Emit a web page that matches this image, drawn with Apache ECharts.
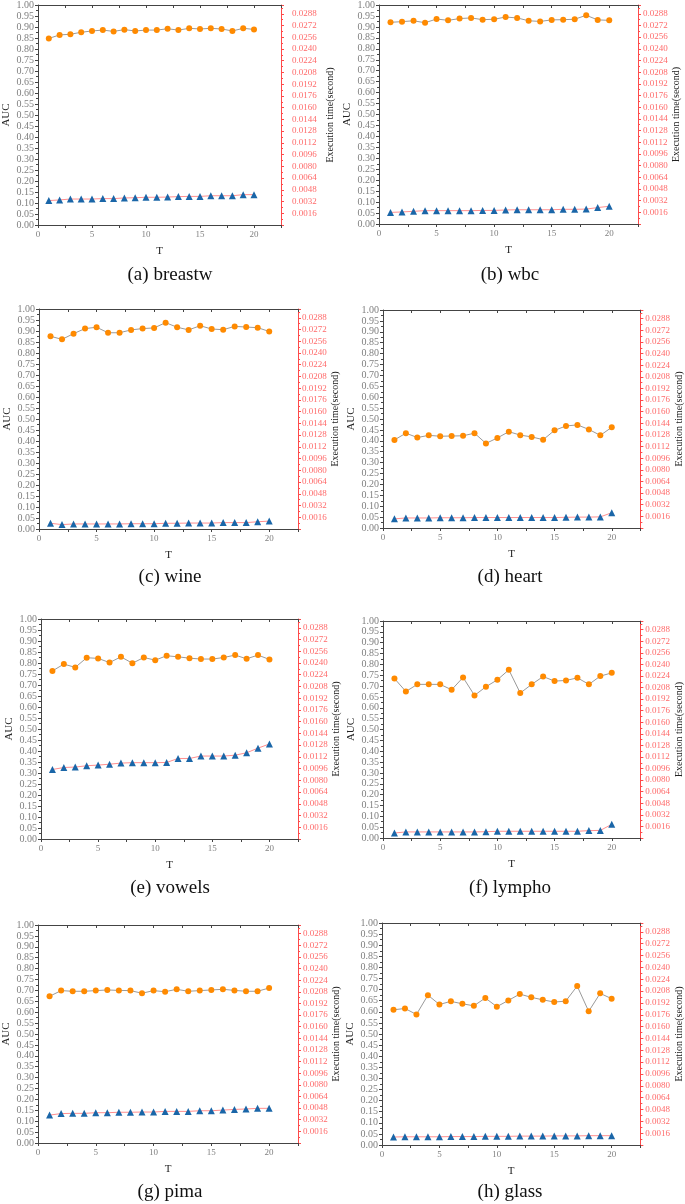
<!DOCTYPE html>
<html>
<head>
<meta charset="utf-8">
<script src="https://cdn.jsdelivr.net/npm/echarts@6/dist/echarts.min.js"></script>
<style>
html,body{margin:0;padding:0;background:#fff;}
#main{width:685px;height:1204px;}
</style>
</head>
<body>
<div id="main"></div>
<script>
// ---- data ----
const T = [1,2,3,4,5,6,7,8,9,10,11,12,13,14,15,16,17,18,19,20];
const captions = ['(a) breastw','(b) wbc','(c) wine','(d) heart','(e) vowels','(f) lympho','(g) pima','(h) glass'];
const xTickLabels = ['0','5','10','15','20'];

const aucBreastw = [0.848,0.864,0.867,0.876,0.882,0.886,0.880,0.888,0.882,0.886,0.886,0.892,0.886,0.894,0.891,0.894,0.891,0.882,0.894,0.889];
const timeBreastw = [0.00333,0.00342,0.00354,0.00354,0.00354,0.00360,0.00360,0.00369,0.00372,0.00378,0.00378,0.00381,0.00387,0.00390,0.00390,0.00399,0.00399,0.00399,0.00414,0.00414];

const aucWbc = [0.921,0.924,0.928,0.919,0.936,0.930,0.938,0.941,0.933,0.935,0.945,0.941,0.928,0.925,0.932,0.933,0.935,0.953,0.932,0.930];
const timeWbc = [0.00159,0.00165,0.00174,0.00183,0.00183,0.00183,0.00183,0.00183,0.00186,0.00186,0.00192,0.00195,0.00195,0.00195,0.00195,0.00201,0.00201,0.00204,0.00225,0.00243];

const aucWine = [0.876,0.862,0.888,0.911,0.917,0.892,0.892,0.905,0.911,0.914,0.938,0.917,0.905,0.924,0.909,0.906,0.921,0.918,0.915,0.898];
const timeWine = [0.00078,0.00060,0.00069,0.00069,0.00069,0.00069,0.00069,0.00072,0.00072,0.00072,0.00078,0.00078,0.00081,0.00081,0.00081,0.00087,0.00087,0.00087,0.00099,0.00108];

const aucHeart = [0.404,0.435,0.415,0.425,0.421,0.422,0.423,0.435,0.388,0.413,0.442,0.426,0.418,0.405,0.448,0.468,0.473,0.452,0.425,0.462];
const timeHeart = [0.00126,0.00138,0.00138,0.00138,0.00141,0.00141,0.00141,0.00144,0.00144,0.00144,0.00144,0.00144,0.00144,0.00144,0.00144,0.00147,0.00150,0.00150,0.00153,0.00210];

const aucVowels = [0.764,0.795,0.780,0.824,0.821,0.802,0.828,0.799,0.825,0.813,0.833,0.828,0.822,0.818,0.818,0.825,0.836,0.819,0.836,0.816];
const timeVowels = [0.00948,0.00975,0.00981,0.00999,0.01008,0.01020,0.01035,0.01041,0.01041,0.01041,0.01044,0.01098,0.01098,0.01131,0.01131,0.01131,0.01143,0.01176,0.01239,0.01296];

const aucLympho = [0.735,0.675,0.708,0.708,0.708,0.683,0.740,0.657,0.697,0.729,0.775,0.668,0.708,0.744,0.723,0.726,0.738,0.708,0.746,0.761];
const timeLympho = [0.00069,0.00084,0.00084,0.00084,0.00084,0.00084,0.00084,0.00084,0.00087,0.00093,0.00093,0.00093,0.00093,0.00093,0.00093,0.00093,0.00093,0.00102,0.00105,0.00189];

const aucPima = [0.673,0.699,0.696,0.696,0.699,0.702,0.700,0.699,0.687,0.699,0.694,0.705,0.696,0.699,0.702,0.705,0.700,0.696,0.696,0.711];
const timePima = [0.00384,0.00405,0.00408,0.00408,0.00417,0.00417,0.00423,0.00423,0.00426,0.00426,0.00435,0.00435,0.00435,0.00444,0.00444,0.00453,0.00462,0.00468,0.00477,0.00477];

const aucGlass = [0.609,0.615,0.588,0.675,0.633,0.647,0.636,0.627,0.662,0.623,0.651,0.680,0.665,0.654,0.644,0.648,0.716,0.602,0.683,0.659];
const timeGlass = [0.00108,0.00111,0.00111,0.00111,0.00111,0.00114,0.00114,0.00114,0.00117,0.00117,0.00117,0.00120,0.00120,0.00120,0.00123,0.00123,0.00123,0.00126,0.00126,0.00126];

const aucSets = [aucBreastw,aucWbc,aucWine,aucHeart,aucVowels,aucLympho,aucPima,aucGlass];
const timeSets = [timeBreastw,timeWbc,timeWine,timeHeart,timeVowels,timeLympho,timePima,timeGlass];

// ---- layout ----
const grids = [
  {left:36, top:5,   width:245, height:220},
  {left:379,top:5,   width:259, height:219},
  {left:39, top:309, width:259, height:220},
  {left:383,top:310, width:259, height:218},
  {left:41, top:619, width:257, height:220},
  {left:383,top:621, width:259, height:217},
  {left:38, top:925, width:260, height:218},
  {left:382,top:923, width:261, height:222}
];
const rightLabelMargin = [11,5,4,5,5,5,5,5];
const rightNameGap = [44,32,32,32,32,31,32,31];
const captionCenters = [
  {x:170,y:275},{x:510,y:275},
  {x:170,y:577},{x:510,y:577},
  {x:170,y:888},{x:510,y:888},
  {x:170,y:1192},{x:510,y:1192}
];

const FONT = '"Liberation Serif", "Times New Roman", serif';
const axisDark = '#444';
const labelGray = '#808080';
const red = '#ff4a4a';
const CAP = 19;

const xAxes = [], yAxes = [], series = [], titles = [];
grids.forEach((g, i) => {
  xAxes.push({
    type:'value', gridIndex:i, position:'bottom', min:0, max:22.5, interval:5,
    name:'T', nameLocation:'middle', nameGap:21,
    nameTextStyle:{fontFamily:FONT, fontSize:11, color:'#222'},
    axisLine:{show:true, onZero:false, lineStyle:{color:axisDark, width:1}},
    axisTick:{show:true, length:3, lineStyle:{color:axisDark}},
    minorTick:{show:true, splitNumber:2, length:3, lineStyle:{color:axisDark}},
    axisLabel:{fontFamily:FONT, fontSize:9, color:labelGray, margin:5, showMaxLabel:false,
      formatter:(v)=>{ const s = String(v); return xTickLabels.indexOf(s) >= 0 ? s : ''; }},
    splitLine:{show:false}
  });
  yAxes.push({
    type:'value', gridIndex:i, position:'left', min:0, max:1, interval:0.05,
    name:'AUC', nameLocation:'middle', nameGap:26, nameRotate:90,
    nameTextStyle:{fontFamily:FONT, fontSize:11, color:'#222'},
    axisLine:{show:true, onZero:false, lineStyle:{color:axisDark, width:1}},
    axisTick:{show:true, length:3, lineStyle:{color:axisDark}},
    minorTick:{show:true, splitNumber:2, length:2, lineStyle:{color:axisDark}},
    axisLabel:{fontFamily:FONT, fontSize:10, color:labelGray, margin:4,
      formatter:(v)=>v.toFixed(2)},
    splitLine:{show:false}
  });
  yAxes.push({
    type:'value', gridIndex:i, position:'right', min:0, max:0.03, interval:0.0016,
    name:'Execution time(second)', nameLocation:'middle', nameGap:rightNameGap[i], nameRotate:90,
    nameTextStyle:{fontFamily:FONT, fontSize:10, color:'#222'},
    axisLine:{show:true, onZero:false, lineStyle:{color:red, width:1}},
    axisTick:{show:true, length:3, lineStyle:{color:red}},
    minorTick:{show:true, splitNumber:2, length:2, lineStyle:{color:red}},
    axisLabel:{fontFamily:FONT, fontSize:9, color:'#ff6b6b', margin:rightLabelMargin[i],
      showMinLabel:false, showMaxLabel:false,
      formatter:(v)=> (v <= 0 || v > 0.0295) ? '' : v.toFixed(4)},
    splitLine:{show:false}
  });
  series.push({
    type:'line', xAxisIndex:i, yAxisIndex:2*i,
    data:T.map((t,j)=>[t, aucSets[i][j]]),
    symbol:'circle', symbolSize:6,
    itemStyle:{color:'#ff8a00'},
    lineStyle:{color:'#9a9a9a', width:1},
    silent:true, animation:false, z:3
  });
  series.push({
    type:'line', xAxisIndex:i, yAxisIndex:2*i+1,
    data:T.map((t,j)=>[t, timeSets[i][j]]),
    symbol:'triangle', symbolSize:7,
    itemStyle:{color:'#1a66a8'},
    lineStyle:{color:'#ff8f8f', width:1},
    silent:true, animation:false, z:3
  });
  titles.push({
    text:captions[i], left:captionCenters[i].x, top:captionCenters[i].y - CAP/2 - 1,
    textAlign:'center', padding:0,
    textStyle:{fontFamily:FONT, fontSize:CAP, fontWeight:'normal', color:'#111', lineHeight:CAP+2}
  });
});
// top border axes with inward ticks
grids.forEach((g, i) => {
  xAxes.push({
    type:'value', gridIndex:i, position:'top', min:0, max:22.5, interval:2.5,
    axisLine:{show:true, onZero:false, lineStyle:{color:axisDark, width:1}},
    axisTick:{show:true, inside:true, length:3, lineStyle:{color:axisDark}},
    axisLabel:{show:false}, splitLine:{show:false}
  });
});

const chart = echarts.init(document.getElementById('main'), null, {renderer:'canvas'});
chart.setOption({
  animation:false,
  backgroundColor:'#fff',
  title:titles,
  grid:grids.map(g=>Object.assign({containLabel:false, show:false}, g)),
  xAxis:xAxes,
  yAxis:yAxes,
  series:series
});
</script>
</body>
</html>
